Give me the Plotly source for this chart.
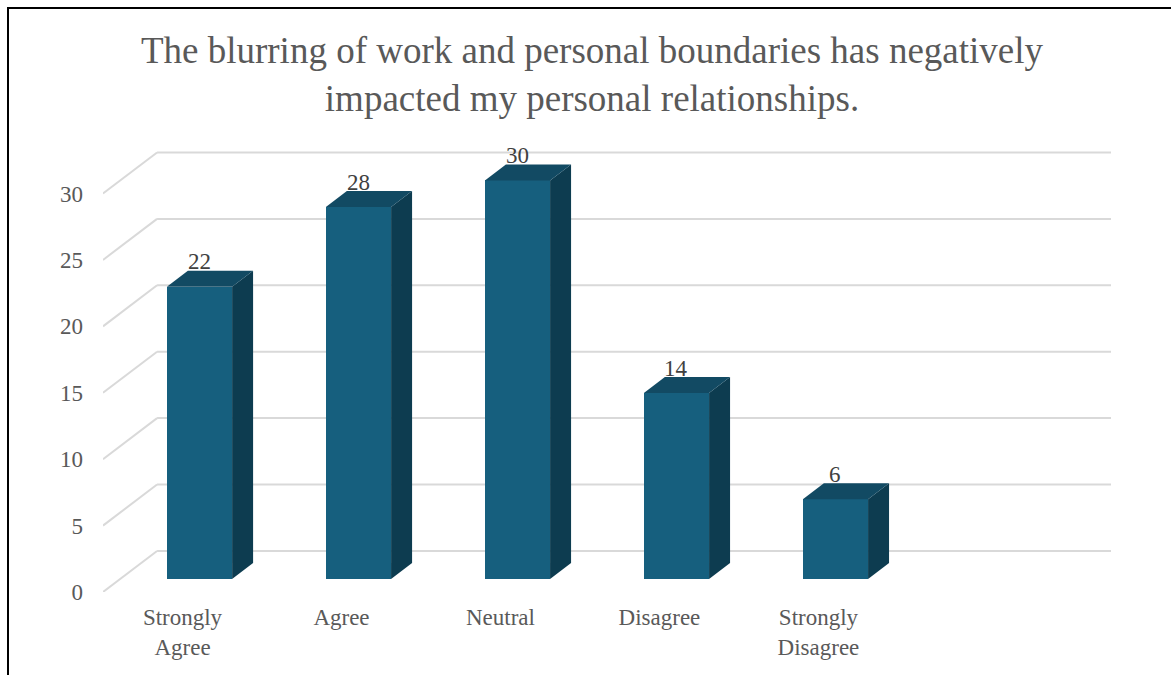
import plotly.graph_objects as go

categories = ["Strongly<br>Agree", "Agree", "Neutral", "Disagree", "Strongly<br>Disagree"]
counts = [22, 28, 30, 14, 6]
y_ticks = [0, 5, 10, 15, 20, 25, 30]
title_text = ("The blurring of work and personal boundaries has negatively<br>"
              "impacted my personal relationships.")

# Colours
FRONT = "#165f7e"
TOP = "#124a63"
SIDE = "#0d3c50"
GRID = "#d9d9d9"
TEXT = "#595959"
FONT = "Liberation Serif"

W, H = 1171, 675

# Pseudo-3D geometry in data units (category index on x, count on y)
n_slots = 6                   # the category axis leaves one empty slot
wall_dx, wall_dy = 0.34, 3.09  # depth offset of the back wall
bar_dx, bar_dy = 0.107, 0.98   # bar front-face offset from the front plane
bar_w = 0.41
side_dx, side_dy = 0.132, 1.2  # bar depth

x_lo = -0.5
x_hi = n_slots - 0.5 + wall_dx
y_hi = 33.2

fig = go.Figure()

# Back-wall gridlines and the diagonals running back from the value axis
shapes = []
for v in y_ticks:
    shapes.append(dict(type="line", xref="x", yref="y", layer="below",
                       x0=x_lo, y0=v, x1=x_lo + wall_dx, y1=v + wall_dy,
                       line=dict(color=GRID, width=2)))
    shapes.append(dict(type="line", xref="x", yref="y", layer="below",
                       x0=x_lo + wall_dx, y0=v + wall_dy,
                       x1=n_slots - 0.5 + wall_dx, y1=v + wall_dy,
                       line=dict(color=GRID, width=2)))

xs = list(range(len(counts)))

# Front faces of the bars
fig.add_trace(go.Bar(
    x=[i + bar_dx for i in xs], y=counts, base=[bar_dy] * len(counts),
    width=bar_w, marker=dict(color=FRONT, line=dict(width=0)),
    hoverinfo="skip", showlegend=False,
))

# Side and top faces
for i, v in zip(xs, counts):
    xl = i + bar_dx - bar_w / 2
    xr = i + bar_dx + bar_w / 2
    y0 = bar_dy
    y1 = v + bar_dy
    fig.add_trace(go.Scatter(
        x=[xr, xr + side_dx, xr + side_dx, xr, xr],
        y=[y0, y0 + side_dy, y1 + side_dy, y1, y0],
        fill="toself", fillcolor=SIDE, mode="lines", line=dict(width=0),
        hoverinfo="skip", showlegend=False,
    ))
    fig.add_trace(go.Scatter(
        x=[xl, xr, xr + side_dx, xl + side_dx, xl],
        y=[y1, y1, y1 + side_dy, y1 + side_dy, y1],
        fill="toself", fillcolor=TOP, mode="lines", line=dict(width=0),
        hoverinfo="skip", showlegend=False,
    ))

# Value labels above each bar
annotations = []
for i, v in zip(xs, counts):
    annotations.append(dict(
        x=i + bar_dx, y=v + bar_dy, xref="x", yref="y", text=str(v),
        showarrow=False, yshift=25,
        font=dict(family=FONT, size=23, color="#404040"),
    ))

# Outer border of the chart area
L, R, T, B = 103, 1111, 151, 592
def px_x(p):
    return (p - L) / (R - L)
def px_y(p):
    return (B - p) / (B - T)

shapes.append(dict(type="rect", xref="paper", yref="paper", layer="above",
                   x0=px_x(8), x1=px_x(1180), y0=px_y(8), y1=px_y(690),
                   line=dict(color="black", width=2), fillcolor="rgba(0,0,0,0)"))

fig.update_layout(
    width=W, height=H,
    margin=dict(l=L, r=W - R, t=T, b=H - B),
    paper_bgcolor="white", plot_bgcolor="white",
    title=dict(text=title_text, x=592 / W, xref="container", xanchor="center",
               y=1 - 63 / H, yref="container", yanchor="middle",
               font=dict(family=FONT, size=37, color=TEXT)),
    shapes=shapes,
    annotations=annotations,
    bargap=0,
    xaxis=dict(range=[x_lo, x_hi], tickmode="array", tickvals=xs, ticktext=categories,
               showgrid=False, zeroline=False, showline=False, ticks="",
               ticklabelstandoff=9,
               tickfont=dict(family=FONT, size=23, color=TEXT)),
    yaxis=dict(range=[0, y_hi], tickmode="array", tickvals=y_ticks,
               showgrid=False, zeroline=False, showline=False, ticks="",
               ticklabelstandoff=19,
               tickfont=dict(family=FONT, size=23, color=TEXT)),
)

fig.write_html("out.html")
